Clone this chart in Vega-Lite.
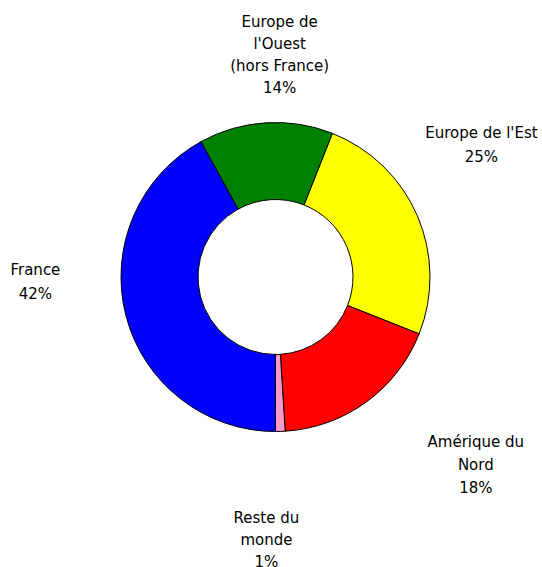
{
  "$schema": "https://vega.github.io/schema/vega-lite/v6.json",
  "width": 533,
  "height": 554,
  "autosize": "none",
  "padding": {"left": 9, "top": 0, "right": 0, "bottom": 13},
  "background": "white",
  "config": {"view": {"stroke": null}},
  "data": {
    "values": [
      {"region": "Europe de l'Est", "label": "Europe de l'Est\n25%", "value": 25, "order": 1},
      {"region": "Amérique du Nord", "label": "Amérique du\nNord\n18%", "value": 18, "order": 2},
      {"region": "Reste du monde", "label": "Reste du\nmonde\n1%", "value": 1, "order": 3},
      {"region": "France", "label": "France\n42%", "value": 42, "order": 4},
      {"region": "Europe de l'Ouest (hors France)", "label": "Europe de\nl'Ouest\n(hors France)\n14%", "value": 14, "order": 5}
    ]
  },
  "encoding": {
    "theta": {"field": "value", "type": "quantitative", "stack": true, "scale": {"domain": [0, 100], "range": [0.377, 6.6602]}},
    "order": {"field": "order", "type": "quantitative"}
  },
  "layer": [
    {
      "mark": {"type": "arc", "outerRadius": 154.5, "innerRadius": 77.5, "stroke": "black", "strokeWidth": 1},
      "encoding": {
        "color": {"field": "region", "type": "nominal", "legend": null,
          "scale": {"domain": ["Europe de l'Est", "Amérique du Nord", "Reste du monde", "France", "Europe de l'Ouest (hors France)"],
                    "range": ["#FFFF00", "#FF0000", "#FF99CC", "#0000FF", "#008000"]}}
      }
    },
    {
      "mark": {"type": "text", "radius": 220, "dx": 18, "dy": -35, "lineBreak": "\n", "font": "DejaVu Sans", "fontSize": 15, "lineHeight": 22, "align": "center", "baseline": "middle", "color": "black"},
      "encoding": {"text": {"condition": {"test": "datum.order === 5", "field": "label"}, "value": ""}}
    },
    {
      "mark": {"type": "text", "radius": 220, "dx": 4, "dy": -57, "lineBreak": "\n", "font": "DejaVu Sans", "fontSize": 15, "lineHeight": 24, "align": "center", "baseline": "middle", "color": "black"},
      "encoding": {"text": {"condition": {"test": "datum.order === 1", "field": "label"}, "value": ""}}
    },
    {
      "mark": {"type": "text", "radius": 220, "dx": 71, "dy": -13, "lineBreak": "\n", "font": "DejaVu Sans", "fontSize": 15, "lineHeight": 23, "align": "center", "baseline": "middle", "color": "black"},
      "encoding": {"text": {"condition": {"test": "datum.order === 2", "field": "label"}, "value": ""}}
    },
    {
      "mark": {"type": "text", "radius": 220, "dx": -16, "dy": 21, "lineBreak": "\n", "font": "DejaVu Sans", "fontSize": 15, "lineHeight": 22, "align": "center", "baseline": "middle", "color": "black"},
      "encoding": {"text": {"condition": {"test": "datum.order === 3", "field": "label"}, "value": ""}}
    },
    {
      "mark": {"type": "text", "radius": 220, "dx": -27, "dy": -62, "lineBreak": "\n", "font": "DejaVu Sans", "fontSize": 15, "lineHeight": 24, "align": "center", "baseline": "middle", "color": "black"},
      "encoding": {"text": {"condition": {"test": "datum.order === 4", "field": "label"}, "value": ""}}
    }
  ]
}
